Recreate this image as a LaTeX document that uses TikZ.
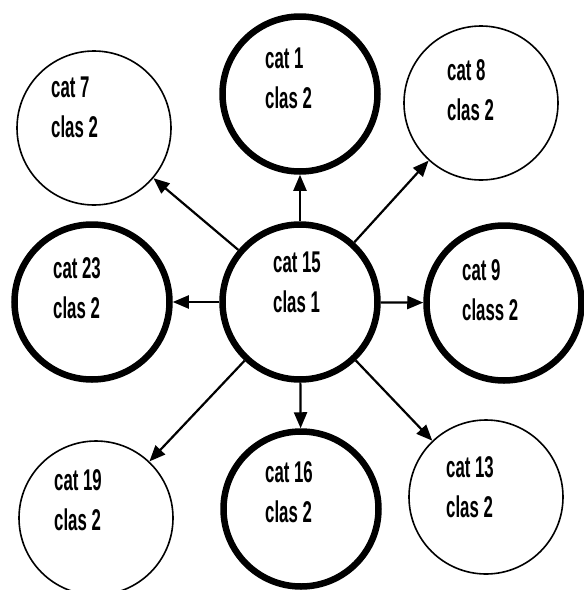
\documentclass[tikz,border=0pt]{standalone}
\usepackage{fontspec}
\setmainfont{Liberation Sans}[FakeStretch=0.56]
\usetikzlibrary{arrows.meta}

\tikzset{
  heavy/.style={circle, draw, line width=6.5pt, minimum size=155pt, inner sep=0pt},
  light/.style={circle, draw, line width=1.6pt, minimum size=154pt, inner sep=0pt},
  tag/.style={anchor=base west, align=left, inner sep=0pt,
              font=\fontsize{30}{40}\selectfont\bfseries},
  link/.style={-{Triangle[length=16pt,width=13pt]}, line width=2.2pt},
}

\begin{document}
\begin{tikzpicture}[x=1pt,y=-1pt]
\useasboundingbox (0,0) rectangle (584,590);

% circles
\node[heavy] (c15) at (300,302) {};
\node[heavy] (c1)  at (300,94)  {};
\node[light] (c7)  at (94,128)  {};
\node[light] (c8)  at (481,103) {};
\node[heavy] (c23) at (92,302)  {};
\node[heavy] (c9)  at (504,303) {};
\node[light] (c19) at (96,518)  {};
\node[heavy] (c16) at (301,509) {};
\node[light] (c13) at (486,497) {};

% labels (anchored at the baseline of the second line)
\node[tag] (t15) at (273,312) {cat 15\\clas 1};
\node[tag] (t1)  at (265,108) {cat 1\\clas 2};
\node[tag] (t7)  at (51,137)  {cat 7\\clas 2};
\node[tag] (t8)  at (447,120) {cat 8\\clas 2};
\node[tag] (t23) at (53,318)  {cat 23\\clas 2};
\node[tag] (t9)  at (462,320) {cat 9\\class 2};
\node[tag] (t19) at (54,530)  {cat 19\\clas 2};
\node[tag] (t16) at (265,522) {cat 16\\clas 2};
\node[tag] (t13) at (446,517) {cat 13\\clas 2};

% connectors
\foreach \t in {c1,c7,c8,c23,c9,c19,c16,c13}
  \draw[link] (c15) -- (\t);
\end{tikzpicture}
\end{document}
